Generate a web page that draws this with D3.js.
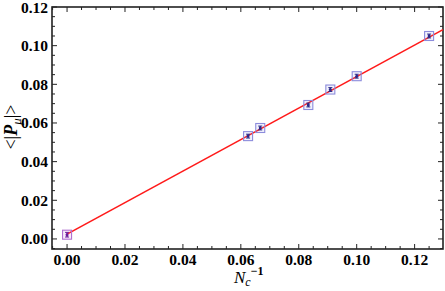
<!DOCTYPE html>
<html><head><meta charset="utf-8">
<script src="https://cdn.jsdelivr.net/npm/d3@7"></script>
<style>body{margin:0;background:#fff;} svg{display:block;}</style>
</head><body>
<script>
const xValues = [0, 0.0625, 0.0667, 0.0833, 0.0909, 0.1, 0.125];
const yValues = [0.0022, 0.0532, 0.0574, 0.0693, 0.0773, 0.0842, 0.1050];
const yErrors = [0.0012, 0.0010, 0.0010, 0.0010, 0.0010, 0.0010, 0.0010];
const fitIntercept = 0.0025, fitSlope = 0.815;
const xTicks = [0, 0.02, 0.04, 0.06, 0.08, 0.10, 0.12];
const yTicks = [0, 0.02, 0.04, 0.06, 0.08, 0.10, 0.12];

const W = 445, H = 291;
const m = {l: 52, r: 2, t: 7, b: 42};
const svg = d3.select("body").append("svg").attr("width", W).attr("height", H);
const x = d3.scaleLinear().domain([-0.0052, 0.1298]).range([m.l, W - m.r]);
const y = d3.scaleLinear().domain([-0.0052, 0.12]).range([H - m.b, m.t]);

const font = "'Liberation Serif','Times New Roman',serif";
const minorX = d3.range(-0.005, 0.1301, 0.005).filter(v => v >= x.domain()[0] - 1e-9 && v <= x.domain()[1]);
const minorY = d3.range(-0.005, 0.1201, 0.005).filter(v => v >= y.domain()[0] - 1e-9 && v <= y.domain()[1] + 1e-9);
const isMajor = v => Math.abs(v / 0.02 - Math.round(v / 0.02)) < 1e-6;

const ax = svg.append("g").attr("stroke", "#222").attr("stroke-width", 1);
minorX.forEach(v => {
  const L = isMajor(v) ? 5 : 3;
  ax.append("line").attr("x1", x(v)).attr("x2", x(v)).attr("y1", y.range()[0]).attr("y2", y.range()[0] - L);
  ax.append("line").attr("x1", x(v)).attr("x2", x(v)).attr("y1", y.range()[1]).attr("y2", y.range()[1] + L);
});
minorY.forEach(v => {
  const L = isMajor(v) ? 5 : 3;
  ax.append("line").attr("y1", y(v)).attr("y2", y(v)).attr("x1", x.range()[0]).attr("x2", x.range()[0] + L);
  ax.append("line").attr("y1", y(v)).attr("y2", y(v)).attr("x1", x.range()[1]).attr("x2", x.range()[1] - L);
});
svg.append("rect").attr("x", x.range()[0]).attr("y", y.range()[1])
  .attr("width", x.range()[1] - x.range()[0]).attr("height", y.range()[0] - y.range()[1])
  .attr("fill", "none").attr("stroke", "#222").attr("stroke-width", 1.6);

svg.append("g").selectAll("text").data(xTicks).join("text")
  .attr("x", d => x(d)).attr("y", 265).attr("text-anchor", "middle")
  .attr("font-family", font).attr("font-weight", "bold").attr("font-size", 15.5)
  .text(d => d3.format(".2f")(d));
svg.append("g").selectAll("text").data(yTicks).join("text")
  .attr("x", 48).attr("y", d => y(d) + 5.5).attr("text-anchor", "end")
  .attr("font-family", font).attr("font-weight", "bold").attr("font-size", 15.5)
  .text(d => d3.format(".2f")(d));

svg.append("line")
  .attr("x1", x(0)).attr("y1", y(fitIntercept))
  .attr("x2", x(x.domain()[1])).attr("y2", y(fitIntercept + fitSlope * x.domain()[1]))
  .attr("stroke", "#ff1a1a").attr("stroke-width", 1.6);

const pts = svg.append("g");
xValues.forEach((xv, i) => {
  const cx = x(xv), cy = y(yValues[i]);
  const sq = i === 0 ? "#b070d0" : "#8c8cdc";
  pts.append("rect").attr("x", cx - 4.5).attr("y", cy - 4.5).attr("width", 9).attr("height", 9)
    .attr("fill", i === 0 ? "rgba(200,120,220,0.15)" : "rgba(150,150,230,0.12)")
    .attr("stroke", sq).attr("stroke-width", 1.1);
  const e1 = y(yValues[i] - yErrors[i]), e2 = y(yValues[i] + yErrors[i]);
  const c = i === 0 ? "#6a1a9a" : "#2a2a8a";
  pts.append("line").attr("x1", cx).attr("x2", cx).attr("y1", e1).attr("y2", e2).attr("stroke", c).attr("stroke-width", 1.4);
  pts.append("line").attr("x1", cx - 2).attr("x2", cx + 2).attr("y1", e1).attr("y2", e1).attr("stroke", c).attr("stroke-width", 1);
  pts.append("line").attr("x1", cx - 2).attr("x2", cx + 2).attr("y1", e2).attr("y2", e2).attr("stroke", c).attr("stroke-width", 1);
  pts.append("circle").attr("cx", cx).attr("cy", cy).attr("r", 1.5).attr("fill", c);
});

const xl = svg.append("text").attr("x", 234).attr("y", 283).attr("text-anchor", "start")
  .attr("font-family", font).attr("font-size", 17);
xl.append("tspan").attr("font-style", "italic").text("N");
xl.append("tspan").attr("font-style", "italic").attr("font-size", 12).attr("dy", 3).text("c");
xl.append("tspan").attr("font-size", 12).attr("dy", -11).attr("font-weight", "bold").text("−1");

const yl = svg.append("text").attr("transform", "translate(17,127) rotate(-90)").attr("text-anchor", "middle")
  .attr("font-family", font).attr("font-size", 18);
yl.append("tspan").text("<|");
yl.append("tspan").attr("font-style", "italic").attr("font-weight", "bold").text("P");
yl.append("tspan").attr("font-style", "italic").attr("font-size", 13).attr("dy", 4).text("μ");
yl.append("tspan").attr("dy", -4).text("|>");
</script>
</body></html>
